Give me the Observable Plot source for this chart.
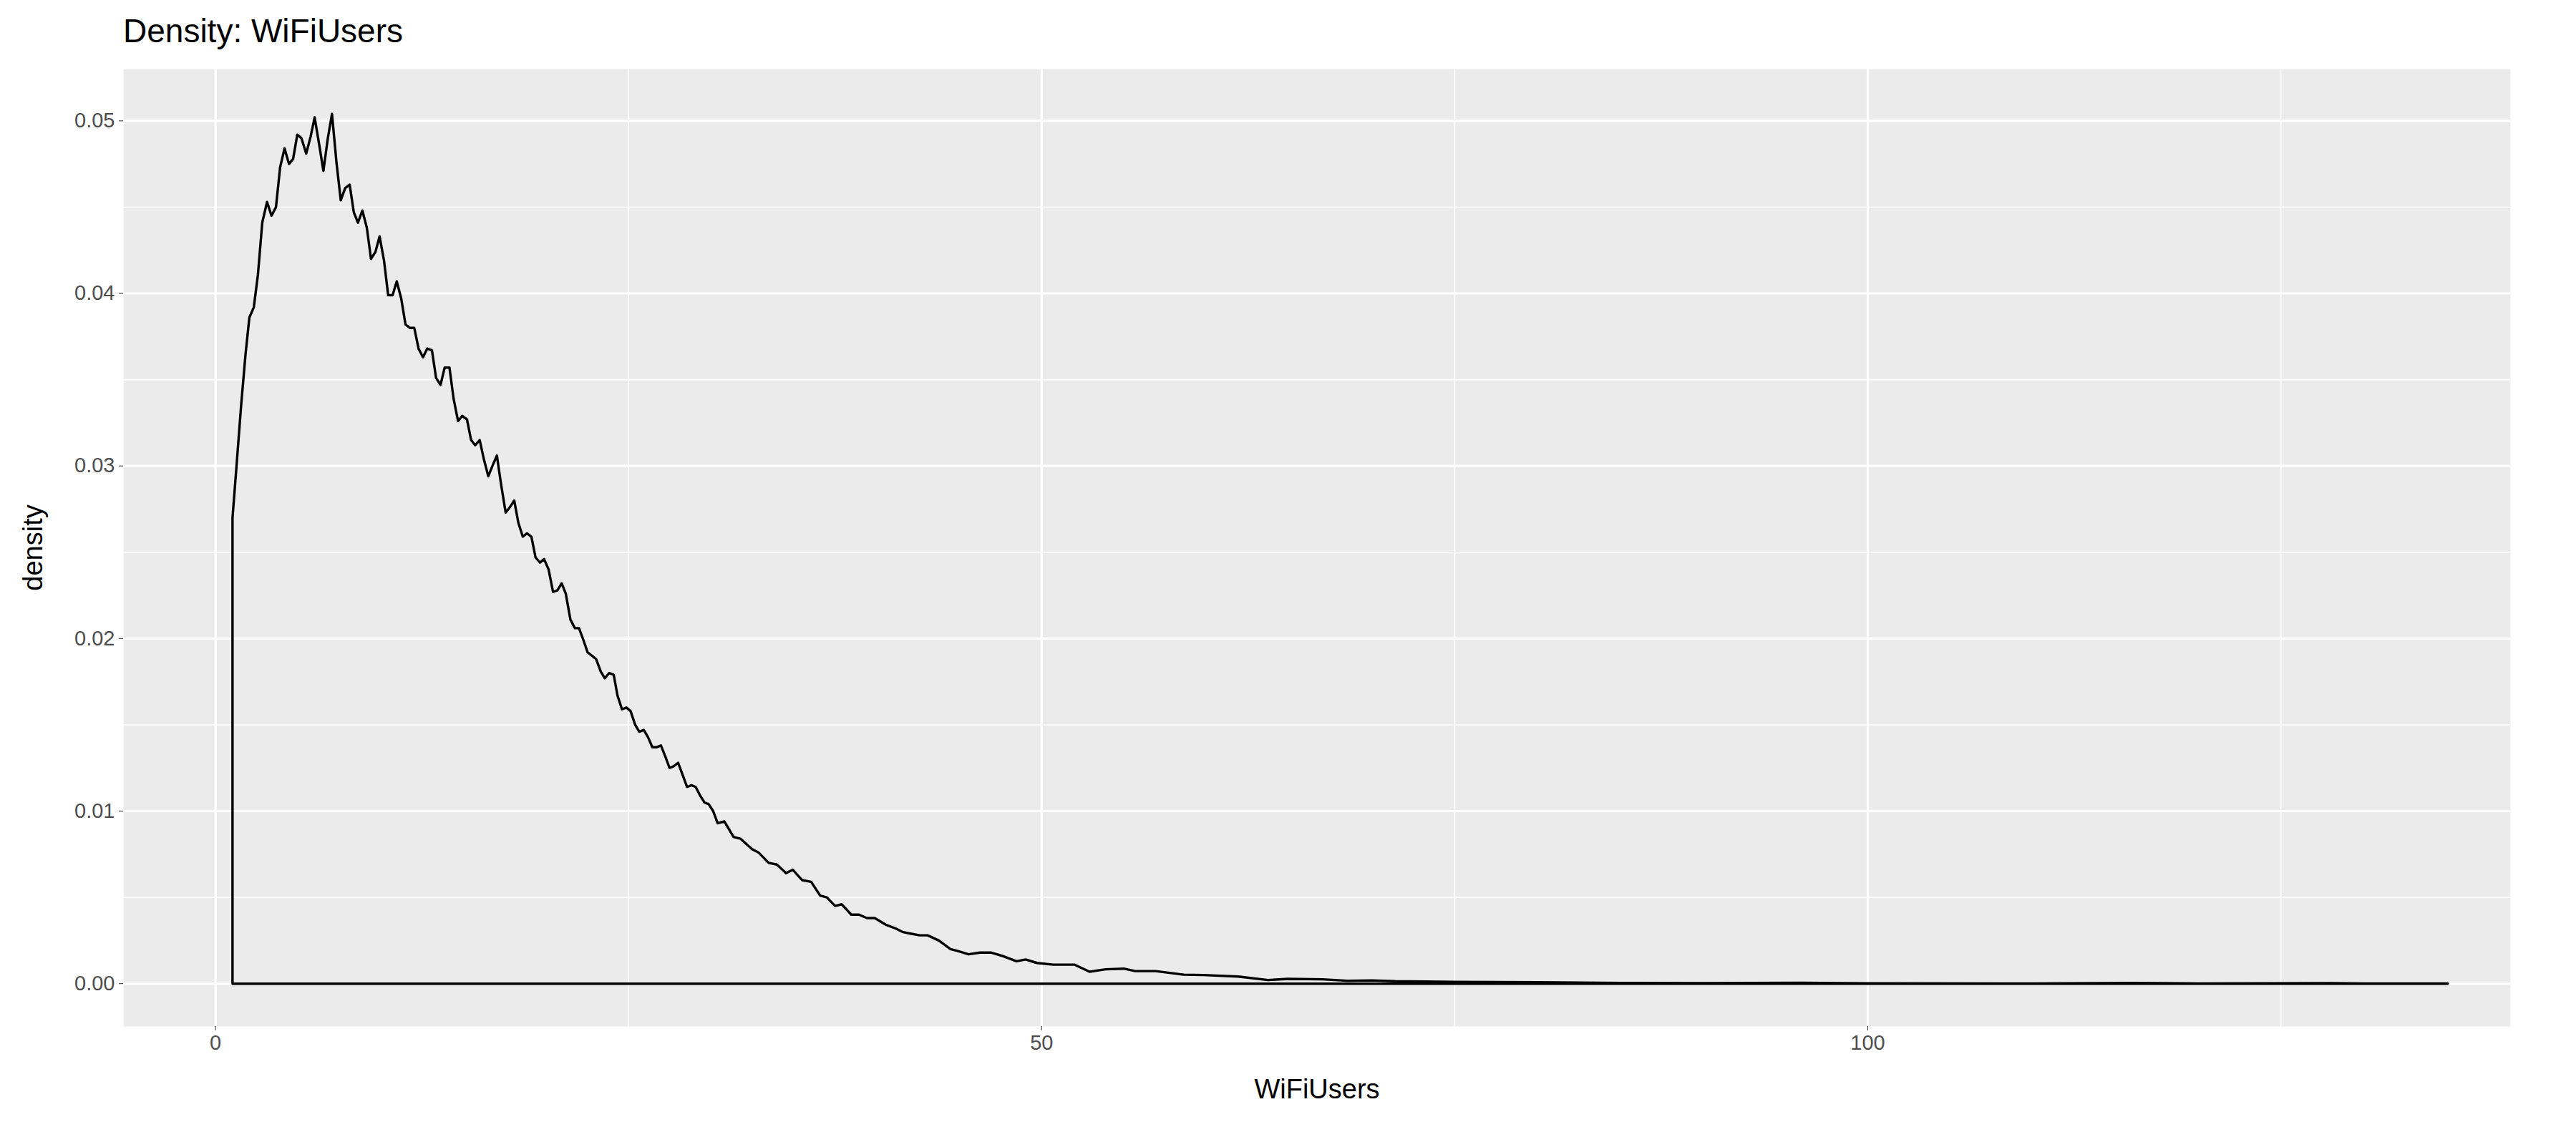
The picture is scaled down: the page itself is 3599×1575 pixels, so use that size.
<!DOCTYPE html>
<html>
<head>
<meta charset="utf-8">
<script src="https://cdn.jsdelivr.net/npm/d3@7"></script>
<script src="https://cdn.jsdelivr.net/npm/@observablehq/plot@0.6"></script>
<style>
  body { margin: 0; background: #fff; font-family: "Liberation Sans", Arial, sans-serif; }
  #title { height: 96px; box-sizing: border-box; padding-left: 172px; padding-top: 16px; font-size: 46px; color: #000; }
</style>
</head>
<body>
<div id="title">Density: WiFiUsers</div>
<div id="chart"></div>
<script>
// curva de densidad (x = WiFiUsers, y = densidad)
const wifiX = [1.03,1.03,1.28,1.55,1.82,2.05,2.32,2.57,2.83,3.12,3.39,3.66,3.91,4.18,4.45,4.70,4.95,5.2,5.49,5.76,6.0,6.28,6.53,6.8,7.05,7.32,7.58,7.85,8.12,8.37,8.62,8.89,9.16,9.41,9.68,9.93,10.2,10.45,10.72,10.97,11.24,11.5,11.76,12.03,12.29,12.56,12.81,13.1,13.35,13.62,13.87,14.16,14.41,14.68,14.93,15.22,15.47,15.72,15.99,16.24,16.51,16.76,17.03,17.29,17.56,17.81,18.08,18.33,18.6,18.85,19.12,19.37,19.64,19.89,20.16,20.43,20.7,20.95,21.2,21.48,21.75,22.0,22.27,22.52,22.79,23.04,23.31,23.56,23.83,24.1,24.33,24.6,24.87,25.12,25.4,25.65,25.92,26.17,26.44,26.69,26.96,27.21,27.48,27.73,28.0,28.27,28.54,28.81,29.06,29.33,29.6,29.85,30.12,30.39,30.8,31.35,31.77,32.46,32.87,33.48,33.98,34.53,34.94,35.5,36.05,36.6,37.0,37.5,37.9,38.48,38.95,39.42,39.9,40.6,41.16,41.57,42.07,42.62,43.1,43.78,44.48,44.9,45.58,46.27,46.96,47.65,48.48,49.03,49.72,50.7,51.52,52.0,52.9,53.87,54.97,55.66,56.9,58.6,59.8,61.9,63.7,64.9,67.0,68.5,70.0,71.4,75,80,85,90,96,100,110,116,120,128,130,135.1,135.1,1.03];
const density = [0,.0270,.0301,.0335,.0365,.0386,.0392,.0411,.0441,.0453,.0445,.0450,.0473,.0484,.0475,.0478,.0492,.0490,.0481,.0491,.0502,.0486,.0471,.0490,.0504,.0476,.0454,.0461,.0463,.0447,.0441,.0448,.0438,.0420,.0424,.0433,.0419,.0399,.0399,.0407,.0397,.0382,.0380,.0380,.0368,.0363,.0368,.0367,.0351,.0347,.0357,.0357,.0339,.0326,.0329,.0327,.0315,.0312,.0315,.0304,.0294,.0300,.0306,.0289,.0273,.0276,.0280,.0267,.0259,.0261,.0259,.0247,.0244,.0246,.0240,.0227,.0228,.0232,.0226,.0211,.0206,.0206,.0199,.0192,.0190,.0188,.0181,.0177,.0180,.0179,.0167,.0159,.0160,.0158,.0150,.0146,.0147,.0143,.0137,.0137,.0138,.0132,.0125,.0126,.0128,.0121,.0114,.0115,.0114,.0109,.0105,.0104,.0100,.0093,.0094,.0085,.0084,.0078,.0076,.0070,.0069,.0064,.0066,.0060,.0059,.0051,.0050,.0045,.0046,.0040,.0040,.0038,.0038,.0034,.0032,.0030,.0029,.0028,.0028,.0025,.0020,.0019,.0017,.0018,.0018,.0016,.0013,.0014,.0012,.0011,.0011,.0011,.00069,.00083,.00087,.00073,.00073,.00052,.00050,.00041,.00021,.00028,.00025,.00017,.00019,.00014,.0001,.00008,.00004,.00003,.00005,.00002,.00001,.00004,.00001,.00003,.00001,.00001,0,0];

const xMajor = [0, 50, 100];
const xMinor = [25, 75, 125];
const yMajor = [0, 0.01, 0.02, 0.03, 0.04, 0.05];
const yMinor = [0.005, 0.015, 0.025, 0.035, 0.045];

const pts = wifiX.map((x, i) => ({x, y: density[i]}));

let chart = Plot.plot({
  width: 3599,
  height: 1479,
  marginTop: 0,
  marginLeft: 172,
  marginRight: 92,
  marginBottom: 141,
  style: {fontFamily: "Liberation Sans, Arial, sans-serif", background: "#fff"},
  x: {domain: [-5.57, 138.9], label: null},
  y: {domain: [-0.00248, 0.0530], label: null},
  marks: [
    Plot.frame({fill: "#EBEBEB", stroke: null}),
    Plot.ruleX(xMinor, {stroke: "#fff", strokeWidth: 1.6}),
    Plot.ruleY(yMinor, {stroke: "#fff", strokeWidth: 1.6}),
    Plot.ruleX(xMajor, {stroke: "#fff", strokeWidth: 3.2}),
    Plot.ruleY(yMajor, {stroke: "#fff", strokeWidth: 3.2}),
    Plot.line(pts, {x: "x", y: "y", stroke: "#000", strokeWidth: 3.4, curve: "linear"}),
    Plot.axisX({ticks: xMajor, tickSize: 6, tickPadding: 6, fontSize: 29, stroke: "#333", color: "#4D4D4D",
      label: "WiFiUsers", labelAnchor: "center", labelArrow: "none", labelOffset: 100}),
    Plot.axisY({ticks: yMajor, tickSize: 6, tickPadding: 6, fontSize: 29, tickFormat: d3.format(".2f"), stroke: "#333", color: "#4D4D4D",
      label: "density", labelAnchor: "center", labelArrow: "none", labelOffset: 140})
  ]
})
d3.select(chart).selectAll("g[aria-label='x-axis label'] text, g[aria-label='y-axis label'] text")
  .style("font-size", "38px").attr("fill", "#000")
d3.select('#chart').append(() => chart)
</script>
</body>
</html>
